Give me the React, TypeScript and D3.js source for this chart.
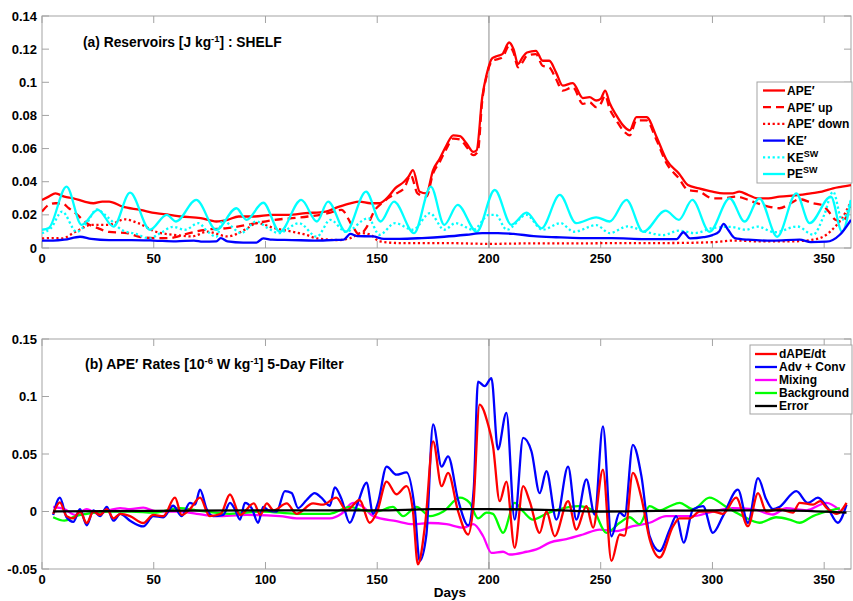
import React from "react";
import * as d3 from "d3";

type P = [number, number];

// ---------- Panel (a): reservoirs [J/kg] ----------
const APE: P[] = [[0,0.029],[3,0.031],[6,0.033],[10,0.031],[14,0.030],[19,0.028],[23,0.027],[27,0.028],[30,0.028],[36,0.025],[44,0.023],[51,0.021],[57,0.020],[62,0.019],[71,0.018],[78,0.016],[83,0.017],[88,0.019],[95,0.019],[103,0.020],[110,0.020],[118,0.021],[127,0.022],[133,0.025],[138,0.027],[142,0.028],[147,0.027],[151,0.027],[155,0.031],[158,0.036],[162,0.040],[164,0.043],[166,0.047],[169,0.034],[172,0.033],[175,0.047],[178,0.054],[181,0.062],[184,0.068],[187,0.0675],[190,0.063],[193,0.058],[194.5,0.059],[197,0.091],[199,0.105],[201.5,0.1146],[204,0.116],[206,0.117],[209,0.124],[211,0.120],[213,0.111],[215,0.115],[217,0.118],[221,0.119],[224,0.113],[227,0.113],[230,0.106],[233,0.098],[237.5,0.0995],[242,0.0905],[245,0.091],[248,0.089],[250,0.090],[252,0.095],[254,0.0875],[257,0.080],[260,0.074],[263,0.071],[266,0.079],[270.5,0.079],[275,0.067],[279.5,0.053],[285,0.045],[289,0.038],[294,0.036],[300,0.034],[305,0.033],[309,0.033],[312,0.034],[316,0.032],[320,0.030],[325,0.030],[330,0.031],[339,0.032],[344,0.033],[349,0.034],[354,0.036],[358,0.037],[362,0.038]];
const APE_UP: P[] = [[0,0.022],[3,0.026],[6,0.027],[9,0.027],[12,0.024],[15,0.021],[20,0.015],[25,0.012],[30,0.0097],[38,0.009],[44,0.0066],[50,0.006],[57,0.006],[61,0.007],[66,0.009],[73,0.011],[83,0.012],[92,0.014],[104,0.017],[112,0.018],[119,0.019],[128,0.021],[134,0.023],[139,0.013],[142,0.008],[145,0.012],[149,0.023],[152,0.027],[156,0.031],[160,0.034],[162,0.036],[165,0.044],[168,0.033],[172,0.031],[175,0.045],[178,0.052],[181,0.060],[184,0.066],[187,0.0655],[190,0.061],[193,0.056],[195,0.058],[197,0.089],[199,0.104],[201.5,0.113],[204,0.114],[206,0.115],[209,0.122],[211,0.118],[213,0.109],[215,0.112],[217,0.116],[221,0.117],[224,0.110],[227,0.109],[230,0.102],[233,0.095],[237.5,0.097],[242,0.087],[245,0.088],[248,0.085],[250,0.087],[252,0.092],[254,0.084],[257,0.077],[260,0.071],[263,0.068],[266,0.077],[270.5,0.077],[275,0.065],[279.5,0.051],[285,0.042],[289,0.035],[294,0.034],[300,0.030],[305,0.030],[311,0.031],[316,0.029],[320,0.027],[325,0.025],[330,0.024],[335,0.027],[339,0.0295],[345,0.027],[349,0.026],[352,0.022],[355,0.017],[358,0.016],[362,0.026]];
const APE_DOWN: P[] = [[0,0.0058],[5,0.006],[9,0.0058],[15,0.0098],[22,0.0139],[30,0.014],[37,0.0173],[43,0.015],[51,0.0098],[60,0.0078],[67,0.007],[74,0.0098],[83,0.007],[88,0.009],[92,0.012],[96,0.015],[104,0.012],[112,0.0098],[118,0.008],[123,0.0058],[133,0.0048],[138,0.006],[143,0.009],[147,0.008],[151,0.004],[160,0.003],[180,0.003],[200,0.0025],[220,0.0028],[240,0.0028],[260,0.003],[280,0.003],[300,0.0035],[310,0.0045],[320,0.004],[335,0.004],[345,0.005],[351,0.008],[355,0.013],[358,0.018],[362,0.028]];
const KE: P[] = [[0,0.0045],[5,0.0045],[10,0.005],[17,0.0068],[22,0.0055],[30,0.0048],[40,0.0048],[50,0.0045],[60,0.004],[68,0.0045],[72,0.0038],[78,0.004],[80,0.006],[83,0.004],[90,0.0033],[96,0.0033],[99,0.0058],[103,0.005],[112,0.0048],[122,0.0045],[130,0.0048],[135,0.005],[138,0.0085],[141,0.0072],[148,0.007],[153,0.0055],[160,0.0055],[170,0.006],[180,0.0068],[190,0.008],[197,0.009],[204,0.009],[211,0.0085],[220,0.0072],[230,0.0065],[241,0.006],[255,0.006],[270,0.0054],[284,0.0054],[287,0.0095],[290,0.0058],[296,0.0065],[300,0.0078],[303,0.010],[305,0.0145],[307,0.011],[310,0.006],[316,0.005],[327,0.0044],[339,0.005],[344,0.0036],[351,0.0038],[357,0.008],[362,0.017]];
const KE_SW: P[] = [[0,0.0089],[4,0.012],[9,0.022],[15.5,0.0098],[20,0.015],[24.5,0.0233],[29,0.019],[35.6,0.011],[42,0.0085],[48,0.0058],[53,0.009],[58.7,0.0128],[64,0.011],[70,0.015],[74,0.010],[78,0.0068],[81,0.017],[84,0.014],[89,0.009],[96,0.016],[101,0.012],[106,0.009],[115,0.015],[123,0.0068],[129,0.017],[136,0.0098],[146,0.018],[151,0.008],[158,0.015],[166,0.011],[173.6,0.021],[180,0.011],[185,0.015],[193,0.011],[200,0.020],[203,0.020],[208,0.011],[216.7,0.020],[224,0.011],[232,0.015],[238,0.0098],[248,0.0138],[254,0.009],[262,0.013],[270,0.0098],[278,0.0078],[285,0.0105],[292,0.009],[300,0.012],[308,0.0128],[315,0.011],[320,0.0129],[328,0.0095],[338,0.013],[345,0.008],[350,0.02],[354,0.034],[358,0.017],[362,0.029]];
const PE_SW: P[] = [[0,0.011],[3,0.012],[11,0.037],[17.7,0.014],[25,0.023],[32,0.0129],[39.4,0.0334],[48.3,0.011],[55.8,0.020],[60,0.016],[69,0.029],[78,0.011],[87,0.024],[91.5,0.017],[99,0.0273],[106.4,0.0098],[116,0.029],[123,0.016],[128,0.028],[136,0.0098],[145,0.034],[151.5,0.016],[157.5,0.028],[166.5,0.009],[174,0.037],[180,0.014],[186,0.026],[194.5,0.0098],[202.6,0.035],[210,0.014],[216.8,0.0213],[223.5,0.0119],[231.7,0.032],[239,0.015],[248,0.0185],[254,0.016],[261.5,0.029],[269,0.0098],[279,0.0225],[285,0.017],[291,0.029],[298.7,0.0098],[307.7,0.030],[314.4,0.016],[321,0.030],[329,0.0068],[337.5,0.033],[343.5,0.015],[353,0.031],[358,0.0098],[362,0.029]];

// ---------- Panel (b): APE' rates ----------
const DAPE: P[] = [[5,-0.002],[8,0.008],[11,-0.004],[14,-0.006],[17,0],[20,-0.010],[23,0],[26,-0.003],[29,0.002],[32,-0.006],[35,-0.002],[39.4,-0.004],[45.3,-0.01],[49.8,-0.003],[54.3,-0.004],[59.5,0.012],[62.5,-0.003],[66.2,0.002],[70.7,0.012],[75,-0.004],[80,-0.002],[84.1,0.0148],[88.6,-0.003],[94.8,0.007],[97.7,-0.003],[100.6,0.007],[103.6,0.001],[109.5,0.007],[113.9,-0.002],[121.3,0.007],[125.8,0.006],[131.7,0.012],[136.2,0.001],[142.1,0.010],[146.6,-0.0098],[150,0],[154.2,0.026],[158.6,0.015],[163.1,0.022],[166,0],[168.2,-0.046],[171.5,-0.01],[175,0.061],[178.8,0.022],[181.7,0.0336],[186.2,0],[190.7,-0.02],[193,0.005],[195.8,0.093],[199.6,0.0757],[201.8,0.057],[204.8,0.009],[207.8,0.026],[211.5,-0.0316],[215.3,0.022],[218.2,0.009],[222.7,-0.0185],[225.7,0],[229.4,-0.0215],[235.4,0.009],[239.1,-0.0157],[243.6,0.0046],[246.6,-0.014],[251,0.0365],[254.8,-0.043],[258.5,-0.02],[260.7,-0.021],[264.4,0.0336],[268.2,0.012],[271.9,-0.024],[276.4,-0.040],[282.4,-0.0128],[285.3,-0.006],[289.8,-0.006],[294.3,0],[300.2,0],[304.7,-0.002],[310.6,0.012],[315.9,-0.0128],[320.4,0.016],[324.1,0],[330,0.002],[336,-0.001],[339,0.0075],[345,0.006],[348.2,0.009],[351.2,0.003],[355.7,-0.002],[360,0.0075]];
const ADV: P[] = [[5,-0.003],[8,0.012],[11,-0.005],[14,-0.009],[17,0.002],[20,-0.012],[23,0.001],[26,-0.004],[29,0.004],[32,-0.008],[35,-0.002],[39.4,-0.008],[45.3,-0.013],[49.8,-0.004],[54.3,-0.005],[58.7,0.005],[62.5,-0.004],[66.2,0.0075],[68.5,0.006],[70.7,0.019],[73.7,0.002],[76.6,-0.004],[81.1,-0.003],[84.1,0.0075],[86.3,0.002],[88.6,-0.007],[90.8,0.0075],[93.8,0.003],[96.7,-0.0098],[99,0.004],[101.3,0.001],[105,0],[108.7,0.0177],[111.7,0.016],[114.6,0.003],[118.4,0.010],[122,0.016],[125,0.012],[128.8,0.005],[131,0.021],[134,0.011],[137.7,-0.0098],[141.4,0.008],[145.2,0.025],[148.2,-0.002],[150.4,0.008],[154.2,0.039],[158.6,0.032],[163.1,0.034],[166.8,0.002],[169,-0.043],[172,-0.02],[175,0.0757],[178.8,0.039],[181.7,0.048],[186.2,0.010],[190.7,-0.012],[193.2,0.02],[195.1,0.113],[198.1,0.109],[201.1,0.116],[204,0.054],[207.8,0.0858],[211.5,-0.007],[215.3,0.064],[219,0.0524],[222.7,0.016],[225.7,0.035],[230.2,-0.007],[235.4,0.039],[239.1,-0.007],[243.6,0.028],[247.3,-0.0026],[251,0.074],[254.8,-0.0215],[258.5,-0.001],[260.7,-0.004],[264.4,0.058],[268.2,0.031],[271.9,-0.0215],[276.4,-0.0345],[280.9,-0.0157],[283.8,-0.004],[287.1,-0.027],[291.3,0.0017],[295.8,0.0046],[300.2,-0.0185],[304.7,-0.004],[311.4,0.019],[315.9,-0.0098],[320.4,0.029],[324.1,0.0104],[327.1,0.002],[330,0.004],[337.5,0.0177],[342.7,0.0075],[347.2,0.012],[351.6,0.003],[356.1,-0.0098],[360,0.006]];
const MIX: P[] = [[5,0.004],[10,0.002],[15,-0.003],[20,0.002],[25,-0.002],[30,0.001],[35,0.003],[39.4,0.002],[45.3,0.0033],[51.3,0],[61.7,0],[69.2,-0.002],[78.1,-0.004],[91.5,-0.003],[106.4,-0.004],[113.9,-0.006],[128.8,-0.006],[134,-0.002],[139.2,0.0075],[143.7,0.004],[148.2,-0.004],[158.6,-0.0084],[166.1,-0.011],[173.6,-0.01],[181,-0.011],[188.5,-0.014],[193,-0.011],[197.4,-0.0215],[201.1,-0.036],[206.3,-0.035],[209.3,-0.0374],[216.8,-0.035],[221.2,-0.033],[227.2,-0.027],[234.6,-0.024],[242.1,-0.02],[249.5,-0.0157],[257,-0.017],[264.4,-0.0128],[271.9,-0.0098],[279.3,-0.004],[291.3,-0.004],[300.2,0],[309.1,0.003],[318.1,0.002],[327.1,-0.0026],[333,0.003],[342,0.001],[351,0.0075],[357,0.001]];
const BG: P[] = [[5,-0.005],[10,-0.008],[15,-0.004],[20,-0.002],[30,0],[40,0],[50,-0.001],[61.7,0.003],[69.2,0.001],[84.1,-0.002],[99,0],[113.9,-0.002],[128.8,-0.002],[137.7,0.004],[143.7,0.001],[149.6,0],[157,0.004],[161.6,-0.004],[167.6,0.004],[173.6,-0.004],[179.6,0],[187,0.012],[191.4,0.0075],[195.1,-0.006],[198.9,-0.001],[201.8,-0.002],[206.3,-0.0185],[211.5,0.0075],[215.3,0],[219.7,-0.007],[225.7,-0.002],[231.7,0.002],[239.9,0.0046],[246.6,0.001],[252.5,-0.0185],[258.5,-0.0098],[262.9,-0.005],[267.4,-0.011],[271.9,0.0046],[276.4,0.001],[280.9,0.0046],[285.3,0.0075],[291.3,0.002],[298.7,0.012],[306.2,0.004],[313.6,-0.004],[321.1,-0.0098],[328.5,-0.005],[334.5,-0.007],[339,-0.0098],[345,-0.004],[351,0],[357,0.003]];
const ERR: P[] = [[5,0],[50,0.0005],[100,0.001],[150,0.001],[175,0.002],[200,0.002],[225,0.0015],[250,0],[275,0.0005],[300,0.001],[330,0.001],[360,-0.001]];

const X_TICKS = [0, 50, 100, 150, 200, 250, 300, 350];
const Y_TICKS_A = [0, 0.02, 0.04, 0.06, 0.08, 0.1, 0.12, 0.14];
const Y_TICKS_B = [-0.05, 0, 0.05, 0.1, 0.15];

const FONT = "'Liberation Sans', Arial, Helvetica, sans-serif";
const AXIS = "#a3a3a3";

const x = d3.scaleLinear().domain([0, 362]).range([42, 851]);
const yA = d3.scaleLinear().domain([0, 0.14]).range([248, 16]);
const yB = d3.scaleLinear().domain([-0.05, 0.15]).range([569, 339]);

function mkLine(y: d3.ScaleLinear<number, number>) {
  return d3.line<P>().x((d) => x(d[0])).y((d) => y(d[1])).curve(d3.curveMonotoneX);
}

function Frame({ y, ticks, id }: { y: d3.ScaleLinear<number, number>; ticks: number[]; id: string }) {
  const [x0, x1] = x.range();
  const [yb, yt] = y.range();
  const tl = 7;
  return (
    <g>
      <rect x={x0} y={yt} width={x1 - x0} height={yb - yt} fill="none" stroke={AXIS} strokeWidth={1} />
      {X_TICKS.map((t) => (
        <g key={"x" + t}>
          <line x1={x(t)} x2={x(t)} y1={yb} y2={yb - tl} stroke={AXIS} />
          <line x1={x(t)} x2={x(t)} y1={yt} y2={yt + tl} stroke={AXIS} />
          <text x={x(t)} y={yb + 15} textAnchor="middle" fontSize={13} fontWeight="bold" fontFamily={FONT}>{t}</text>
        </g>
      ))}
      {ticks.map((t) => (
        <g key={"y" + t}>
          <line x1={x0} x2={x0 + tl} y1={y(t)} y2={y(t)} stroke={AXIS} />
          <line x1={x1} x2={x1 - tl} y1={y(t)} y2={y(t)} stroke={AXIS} />
          <text x={37} y={y(t) + 4.5} textAnchor="end" fontSize={13} fontWeight="bold" fontFamily={FONT}>{String(+t.toFixed(3))}</text>
        </g>
      ))}
      <line x1={x(200)} x2={x(200)} y1={yt} y2={yb} stroke="#8c8c8c" strokeWidth={1} />
      <clipPath id={id}>
        <rect x={x0} y={yt} width={x1 - x0} height={yb - yt} />
      </clipPath>
    </g>
  );
}

export default function App() {
  const lA = mkLine(yA);
  const lB = mkLine(yB);
  const topSeries = [
    { d: APE_DOWN, c: "#ff0000", dash: "2.2 2.6" },
    { d: APE_UP, c: "#ff0000", dash: "8 5" },
    { d: APE, c: "#ff0000", dash: undefined },
    { d: KE_SW, c: "#00ffff", dash: "2.2 2.6" },
    { d: PE_SW, c: "#00ffff", dash: undefined },
    { d: KE, c: "#0000ff", dash: undefined },
  ];
  const botSeries = [
    { d: MIX, c: "#ff00ff" },
    { d: BG, c: "#00ff00" },
    { d: ADV, c: "#0000ff" },
    { d: DAPE, c: "#ff0000" },
    { d: ERR, c: "#000000" },
  ];
  const legA: { base: string; sup?: string; c: string; dash?: string }[] = [
    { base: "APE′", c: "#ff0000" },
    { base: "APE′ up", c: "#ff0000", dash: "8 5" },
    { base: "APE′ down", c: "#ff0000", dash: "2.2 2.6" },
    { base: "KE′", c: "#0000ff" },
    { base: "KE", sup: "SW", c: "#00ffff", dash: "2.2 2.6" },
    { base: "PE", sup: "SW", c: "#00ffff" },
  ];
  const legB = [
    { label: "dAPE/dt", c: "#ff0000" },
    { label: "Adv + Conv", c: "#0000ff" },
    { label: "Mixing", c: "#ff00ff" },
    { label: "Background", c: "#00ff00" },
    { label: "Error", c: "#000000" },
  ];
  return (
    <svg width={853} height={601} style={{ display: "block", position: "absolute", left: 0, top: 0 }} fontFamily={FONT}>
      <rect width={853} height={601} fill="#fff" />
      <Frame y={yA} ticks={Y_TICKS_A} id="clipA" />
      <Frame y={yB} ticks={Y_TICKS_B} id="clipB" />
      <g clipPath="url(#clipA)" fill="none" strokeWidth={2.3} strokeLinejoin="round">
        {topSeries.map((s, i) => (
          <path key={i} d={lA(s.d) || ""} stroke={s.c} strokeDasharray={s.dash} />
        ))}
      </g>
      <g clipPath="url(#clipB)" fill="none" strokeWidth={2.3} strokeLinejoin="round">
        {botSeries.map((s, i) => (
          <path key={i} d={lB(s.d) || ""} stroke={s.c} />
        ))}
      </g>
      <text x={83} y={47} fontSize={13.8} fontWeight="bold">
        <tspan>(a) Reservoirs [J kg</tspan>
        <tspan dy={-5} fontSize={9.5}>-1</tspan>
        <tspan dy={5}>] : SHELF</tspan>
      </text>
      <text x={85} y={369} fontSize={14} fontWeight="bold">
        <tspan>(b) APE′ Rates [10</tspan>
        <tspan dy={-5} fontSize={9.5}>-6</tspan>
        <tspan dy={5}> W kg</tspan>
        <tspan dy={-5} fontSize={9.5}>-1</tspan>
        <tspan dy={5}>] 5-Day Filter</tspan>
      </text>
      <text x={450} y={597} textAnchor="middle" fontSize={13.5} fontWeight="bold">Days</text>
      {/* legend a */}
      <g>
        <rect x={757} y={82} width={95} height={101} fill="#fff" stroke={AXIS} />
        {legA.map((e, i) => {
          const yy = 90.5 + i * 16.7;
          return (
            <g key={i}>
              <line x1={763} x2={785} y1={yy} y2={yy} stroke={e.c} strokeWidth={2.3} strokeDasharray={e.dash} />
              <text x={787} y={yy + 4.3} fontSize={12} fontWeight="bold">
                <tspan>{e.base}</tspan>
                {e.sup ? <tspan dy={-5} fontSize={9}>{e.sup}</tspan> : null}
              </text>
            </g>
          );
        })}
      </g>
      {/* legend b */}
      <g>
        <rect x={750} y={345} width={102} height={69} fill="#fff" stroke={AXIS} />
        {legB.map((e, i) => {
          const yy = 354 + i * 13;
          return (
            <g key={i}>
              <line x1={755} x2={777} y1={yy} y2={yy} stroke={e.c} strokeWidth={2.3} />
              <text x={779} y={yy + 4.3} fontSize={12} fontWeight="bold">{e.label}</text>
            </g>
          );
        })}
      </g>
    </svg>
  );
}
